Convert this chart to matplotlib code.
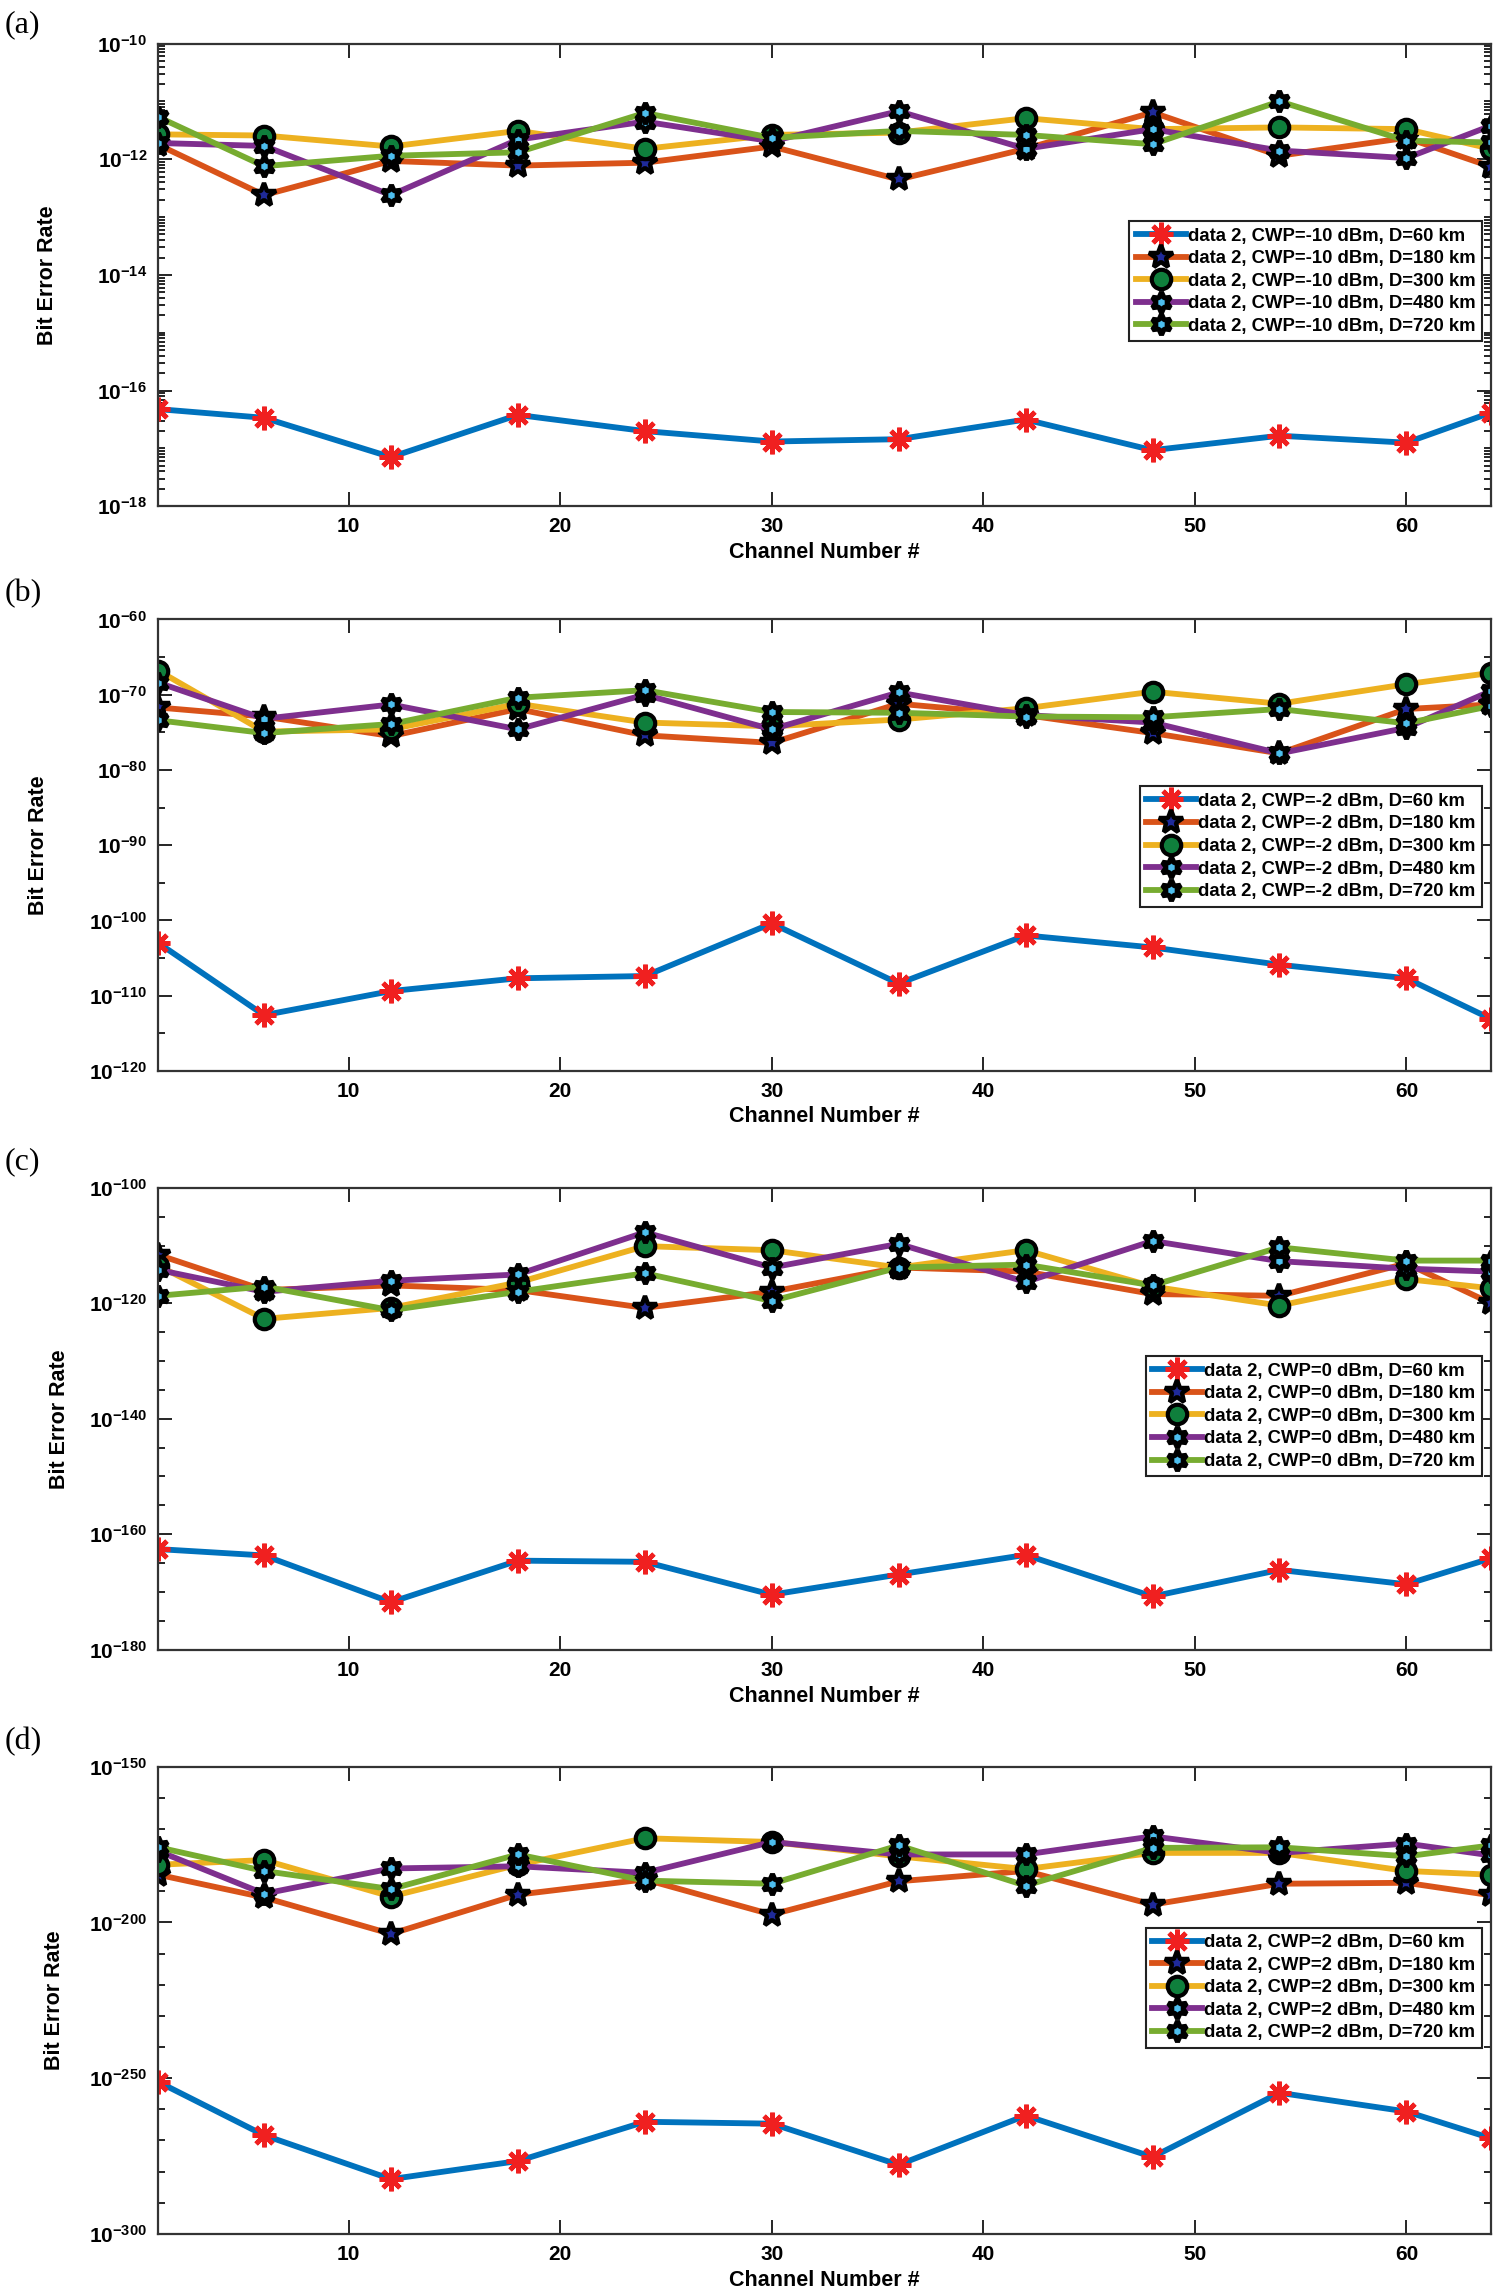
"""Bit error rate vs channel number for four CW pump powers (four stacked panels)."""

import numpy as np
import matplotlib
matplotlib.use("Agg")
import matplotlib.pyplot as plt
from matplotlib.ticker import FixedLocator, FuncFormatter, NullFormatter

plt.rcParams["font.family"] = ["Liberation Sans", "DejaVu Sans"]
plt.rcParams["font.weight"] = "bold"
plt.rcParams["mathtext.fontset"] = "custom"
plt.rcParams["mathtext.rm"] = "Liberation Sans:bold"
plt.rcParams["mathtext.bf"] = "Liberation Sans:bold"
plt.rcParams["mathtext.default"] = "rm"

# --- data (log10 of BER) ---
channels = [1, 6, 12, 18, 24, 30, 36, 42, 48, 54, 60, 64]
distances = ["60", "180", "300", "480", "720"]

# (a) CWP = -10 dBm
ber_a_60 = [-16.32, -16.47, -17.15, -16.42, -16.70, -16.88, -16.84, -16.50, -17.03, -16.78, -16.90, -16.38]
ber_a_180 = [-11.75, -12.62, -12.03, -12.11, -12.06, -11.78, -12.35, -11.82, -11.19, -11.94, -11.63, -12.13]
ber_a_300 = [-11.57, -11.59, -11.78, -11.51, -11.82, -11.58, -11.54, -11.29, -11.48, -11.45, -11.48, -11.82]
ber_a_480 = [-11.72, -11.77, -12.62, -11.66, -11.35, -11.69, -11.17, -11.82, -11.48, -11.85, -11.98, -11.42]
ber_a_720 = [-11.27, -12.12, -11.94, -11.88, -11.20, -11.63, -11.51, -11.58, -11.74, -11.00, -11.68, -11.71]

# (b) CWP = -2 dBm
ber_b_60 = [-103.0, -112.6, -109.4, -107.7, -107.4, -100.4, -108.4, -102.0, -103.6, -105.9, -107.7, -113.1]
ber_b_180 = [-71.7, -72.9, -75.5, -71.9, -75.4, -76.4, -71.2, -72.7, -75.1, -77.8, -71.9, -71.3]
ber_b_300 = [-66.8, -74.9, -74.6, -71.2, -73.7, -74.2, -73.3, -71.8, -69.6, -71.2, -68.6, -67.1]
ber_b_480 = [-68.4, -73.2, -71.3, -74.6, -70.0, -74.6, -69.7, -72.7, -73.7, -77.8, -74.4, -69.5]
ber_b_720 = [-73.4, -75.1, -73.9, -70.4, -69.4, -72.3, -72.4, -72.9, -73.0, -71.9, -73.8, -71.5]

# (c) CWP = 0 dBm
ber_c_60 = [-162.6, -163.7, -171.8, -164.6, -164.8, -170.5, -167.0, -163.6, -170.8, -166.2, -168.7, -164.2]
ber_c_180 = [-111.6, -117.7, -116.9, -117.7, -120.8, -118.0, -113.8, -114.5, -118.4, -118.7, -113.1, -120.0]
ber_c_300 = [-113.5, -122.7, -120.8, -116.4, -110.1, -110.8, -113.8, -110.8, -117.1, -120.4, -115.8, -117.4]
ber_c_480 = [-114.2, -118.0, -116.1, -115.0, -107.7, -113.8, -109.7, -116.3, -109.2, -112.7, -114.0, -114.5]
ber_c_720 = [-118.7, -117.1, -121.2, -118.0, -114.8, -119.6, -113.8, -113.3, -116.9, -110.3, -112.6, -112.6]

# (d) CWP = 2 dBm
ber_d_60 = [-251.2, -268.3, -282.4, -276.6, -264.0, -264.6, -277.8, -262.0, -275.3, -254.7, -260.7, -269.3]
ber_d_180 = [-184.7, -192.0, -203.7, -191.1, -186.2, -197.5, -186.8, -183.5, -194.3, -187.6, -187.3, -191.3]
ber_d_300 = [-181.5, -180.0, -191.7, -181.5, -173.0, -174.2, -178.8, -182.9, -177.7, -177.7, -183.5, -184.7]
ber_d_480 = [-177.1, -190.8, -182.7, -182.0, -184.1, -174.2, -178.2, -178.2, -172.4, -177.7, -174.7, -178.5]
ber_d_720 = [-175.9, -183.5, -189.3, -178.2, -186.6, -187.6, -175.3, -188.2, -176.1, -175.9, -178.8, -175.3]

panels = [
    ("(a)", "-10", [ber_a_60, ber_a_180, ber_a_300, ber_a_480, ber_a_720], (-18, -10), 2, np.arange(-18, -9)),
    ("(b)", "-2", [ber_b_60, ber_b_180, ber_b_300, ber_b_480, ber_b_720], (-120, -60), 10, np.arange(-120, -59, 5)),
    ("(c)", "0", [ber_c_60, ber_c_180, ber_c_300, ber_c_480, ber_c_720], (-180, -100), 20, np.arange(-180, -99, 5)),
    ("(d)", "2", [ber_d_60, ber_d_180, ber_d_300, ber_d_480, ber_d_720], (-300, -150), 50, np.arange(-300, -149, 10)),
]

# --- layout (figure fractions) ---
axes_rects = [
    [0.1055, 0.779, 0.8885, 0.202],
    [0.1055, 0.5326, 0.8885, 0.197],
    [0.1055, 0.280, 0.8885, 0.2015],
    [0.1055, 0.0249, 0.8885, 0.204],
]
panel_label_y = [0.989, 0.741, 0.493, 0.240]
ylabel_x = [-0.075, -0.082, -0.066, -0.070]
legend_top = [0.616, 0.630, 0.635, 0.655]

line_colors = ["#0072BD", "#D95319", "#EDB120", "#7E2F8E", "#77AC30"]
hexagram = (6, 1, 0)
marker_styles = [
    dict(marker=(8, 2, 0), ms=17, mec="#f02020", mfc="#f02020", mew=3.4),
    dict(marker="*", ms=18, mec="black", mfc="#1f2a9a", mew=3.2),
    dict(marker="o", ms=14, mec="black", mfc="#0f7f3c", mew=3.0),
    dict(marker=hexagram, ms=15, mec="black", mfc="#4dbeee", mew=3.6),
    dict(marker=hexagram, ms=15, mec="black", mfc="#4dbeee", mew=3.6),
]

fig = plt.figure(figsize=(15, 22.91), dpi=100)

for i, (tag, cwp, series, (ylo, yhi), major_step, minor_exps) in enumerate(panels):
    ax = fig.add_axes(axes_rects[i])
    for j, vals in enumerate(series):
        ax.plot(channels, 10.0 ** np.array(vals), color=line_colors[j], lw=4.2,
                label=f"data 2, CWP={cwp} dBm, D={distances[j]} km",
                **marker_styles[j])
    ax.set_yscale("log")
    ax.set_xlim(1, 64)
    ax.set_ylim(10.0 ** ylo, 10.0 ** yhi)
    ax.set_xticks([10, 20, 30, 40, 50, 60])

    major_exps = np.arange(ylo, yhi + 1, major_step)
    ax.yaxis.set_major_locator(FixedLocator(10.0 ** major_exps))
    ax.yaxis.set_major_formatter(FuncFormatter(
        lambda v, p: r"$10^{%d}$" % int(round(np.log10(v)))))
    if i == 0:
        minor = [s * 10.0 ** e for e in range(ylo, yhi) for s in range(1, 10)]
    else:
        minor = list(10.0 ** minor_exps)
    ax.yaxis.set_minor_locator(FixedLocator(minor))
    ax.yaxis.set_minor_formatter(NullFormatter())
    ax.xaxis.set_minor_locator(FixedLocator([]))

    ax.tick_params(which="both", direction="in", top=True, right=True,
                   colors="black", width=1.2)
    ax.tick_params(which="major", length=10, labelsize=15, pad=8)
    ax.tick_params(which="minor", length=5)
    for sp in ax.spines.values():
        sp.set_linewidth(1.6)
        sp.set_color("#333333")

    ax.set_ylabel("Bit Error Rate", fontsize=15.5, fontweight="bold")
    ax.yaxis.set_label_coords(ylabel_x[i], 0.5)
    ax.set_xlabel("Channel Number #", fontsize=15.5, fontweight="bold")
    ax.xaxis.set_label_coords(0.5, -0.078)

    leg = ax.legend(loc="upper right", bbox_to_anchor=(0.993, legend_top[i]),
                    fontsize=13.3, handlelength=2.7, handletextpad=0.1,
                    labelspacing=0.3, borderpad=0.35, borderaxespad=0,
                    fancybox=False, framealpha=1, edgecolor="#222222")
    leg.get_frame().set_linewidth(1.5)

    fig.text(0.003, panel_label_y[i], tag, fontsize=23, fontweight="normal",
             family=["Liberation Serif", "DejaVu Serif"], va="center", ha="left")

fig.savefig("out.png", dpi=100)
plt.close(fig)
